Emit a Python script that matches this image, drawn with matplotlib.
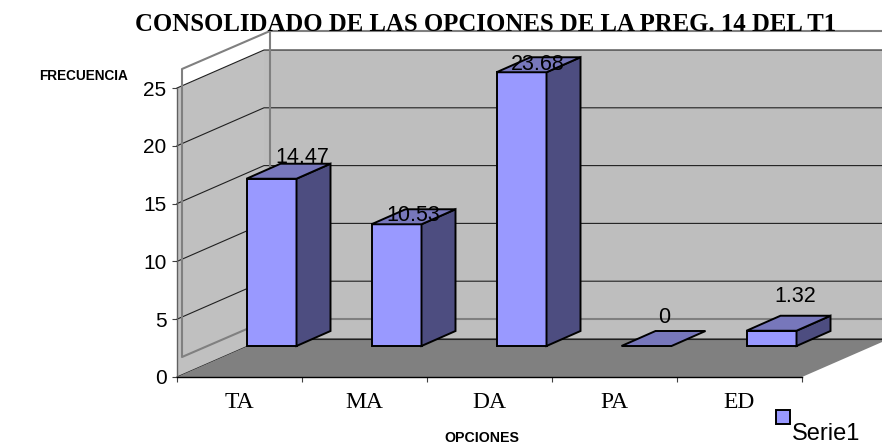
import matplotlib
matplotlib.use('Agg')
import matplotlib.pyplot as plt
from matplotlib.patches import Rectangle

W, H = 882, 446

# datos
opciones = ['TA', 'MA', 'DA', 'PA', 'ED']
frecuencia = [14.47, 10.53, 23.68, 0, 1.32]
etiquetas = ['14.47', '10.53', '23.68', '0', '1.32']
yticks = [0, 5, 10, 15, 20, 25]

# donde cae cada etiqueta respecto a la cara frontal de la barra (px)
lado_px = [31, 17, 16, 18, 24]
subida_px = [16, 3, 2, 23, 29]

SANS = 'Liberation Sans'
SERIF = 'Liberation Serif'

fig = plt.figure(figsize=(W / 100, H / 100), dpi=100, facecolor='white')
ax = fig.add_axes([177 / W, (H - 377) / H, 625 / W, 289 / H])
ax.set_xlim(0, 5)
ax.set_ylim(0, 25)
ax.patch.set_visible(False)

ux = 125.0      # px por categoria
uy = 289 / 25   # px por unidad

# profundidad de las paredes, desplazamiento de las barras y fondo de las barras
wx, wy = 87 / ux, 38 / uy
bx, by = 32 / ux, 31 / uy
dx, dy = 34 / ux, 15 / uy
ancho = 50 / ux
x_fin = 5 + wx

# paredes y piso
ax.fill([0, 0, wx, wx], [0, 25, 25 + wy, wy], color='#C0C0C0', lw=0, zorder=1, clip_on=False)
ax.fill([wx, wx, x_fin, x_fin], [wy, 25 + wy, 25 + wy, wy], color='#BEBEBE', lw=0, zorder=1, clip_on=False)

# lineas de division
for v in yticks:
    ax.plot([0, wx, x_fin], [v, v + wy, v + wy], color='#202020', lw=0.8, zorder=2, clip_on=False)

# marco gris
fx0, fx1 = 5 / ux, 93 / ux
f_bajo0, f_alto0 = 20 / uy, 308 / uy
f_bajo1, f_alto1 = 58 / uy, 346 / uy
ax.plot([x_fin, fx1, fx0, fx0, fx1, x_fin],
        [f_alto1, f_alto1, f_alto0, f_bajo0, f_bajo1, f_bajo1],
        color='#808080', lw=1.5, zorder=3, clip_on=False)
ax.plot([fx1, fx1], [f_bajo1, f_alto1], color='#808080', lw=1.5, zorder=3, clip_on=False)
# el piso tapa la parte baja del marco
ax.fill([0, wx, x_fin, 5], [0, wy, wy, 0], color='#808080', lw=0, zorder=3.5, clip_on=False)
ax.plot([wx, x_fin], [wy, wy], color='#202020', lw=0.8, zorder=3.5, clip_on=False)

# barras
pos = [i + 0.5 + bx for i in range(len(frecuencia))]
borde = dict(edgecolor='black', linewidth=1.4, joinstyle='miter', clip_on=False)
ax.bar(pos, frecuencia, width=ancho, bottom=by, color='#9999FF', zorder=4, **borde)
for p, v in zip(pos, frecuencia):
    der = p + ancho / 2
    izq = p - ancho / 2
    arriba = by + v
    if v > 0:
        ax.fill([der, der + dx, der + dx, der], [by, by + dy, arriba + dy, arriba],
                facecolor='#4D4D80', zorder=4, **borde)
    ax.fill([izq, der, der + dx, izq + dx], [arriba, arriba, arriba + dy, arriba + dy],
            facecolor='#7777BB', zorder=4, **borde)

# etiquetas de datos
for p, v, et, l, s in zip(pos, frecuencia, etiquetas, lado_px, subida_px):
    ax.text(p + l / ux, by + v + s / uy, et, ha='center', va='baseline',
            fontsize=15.5, family=SANS, color='black', zorder=6, clip_on=False)

# ejes
for lado in ['top', 'right']:
    ax.spines[lado].set_visible(False)
ax.spines['left'].set_color('#606060')
ax.spines['left'].set_linewidth(1.0)
ax.spines['bottom'].set_linewidth(1.0)
ax.spines['left'].set_zorder(5)
ax.spines['bottom'].set_zorder(5)
ax.set_yticks(yticks)
ax.set_yticklabels([str(v) for v in yticks], family=SANS, fontsize=15)
ax.set_xticks(range(6))
ax.set_xticklabels([])
ax.set_xticks([i + 0.5 for i in range(5)], minor=True)
ax.set_xticklabels(opciones, minor=True, family=SERIF, fontsize=17)
ax.tick_params(axis='x', which='major', direction='out', length=3.6, width=0.8, color='#404040')
ax.tick_params(axis='x', which='minor', length=0, pad=11)
ax.tick_params(axis='y', direction='out', length=3.6, width=0.8, pad=4, color='#404040')

# textos
fig.text(486 / W, 1 - 31 / H, 'CONSOLIDADO DE LAS OPCIONES DE LA PREG. 14 DEL T1',
         ha='center', va='baseline', family=SERIF, weight='bold', fontsize=17.8)
fig.text(83.5 / W, 1 - 80 / H, 'FRECUENCIA', ha='center', va='baseline',
         family=SANS, weight='bold', fontsize=9.8)
fig.text(482 / W, 1 - 442.5 / H, 'OPCIONES', ha='center', va='baseline',
         family=SANS, weight='bold', fontsize=10.2)

# leyenda
fig.add_artist(Rectangle((776 / W, 1 - 424 / H), 14 / W, 14 / H, transform=fig.transFigure,
                         facecolor='#9999FF', edgecolor='black', linewidth=1.4))
fig.text(792 / W, 1 - 440.5 / H, 'Serie1', ha='left', va='baseline', family=SANS, fontsize=17)

fig.savefig('out.png', dpi=100, facecolor='white')
